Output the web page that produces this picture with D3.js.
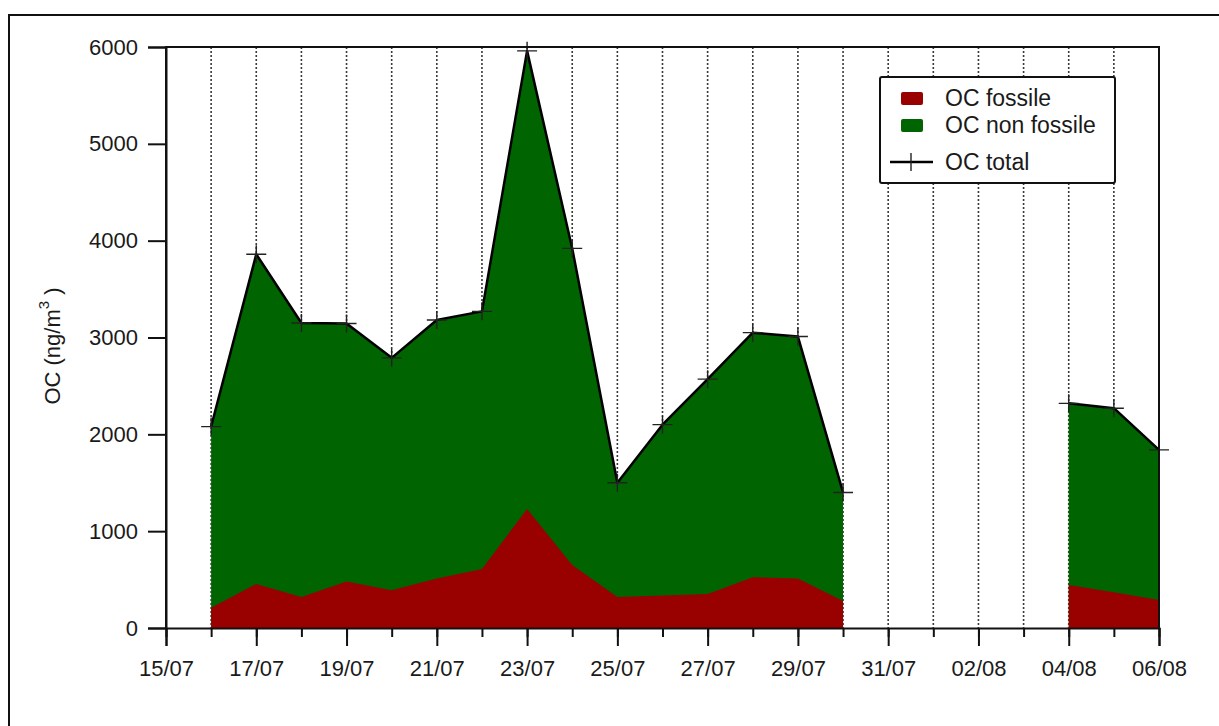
<!DOCTYPE html>
<html>
<head>
<meta charset="utf-8">
<script src="https://cdn.jsdelivr.net/npm/d3@7"></script>
<style>
  body { margin: 0; background: #fff; }
  text { font-family: "Liberation Sans", Arial, sans-serif; fill: #1a1a1a; }
</style>
</head>
<body>
<svg id="chart" width="1219" height="726"></svg>
<script>
// sampling days (dd/mm), null = no measurement
const days = ['16/07', '17/07', '18/07', '19/07', '20/07', '21/07', '22/07', '23/07', '24/07',
  '25/07', '26/07', '27/07', '28/07', '29/07', '30/07', '31/07', '01/08', '02/08', '03/08',
  '04/08', '05/08', '06/08'];
const ocTotal = [2080, 3860, 3150, 3145, 2790, 3180, 3270, 5960, 3920,
  1500, 2100, 2570, 3050, 3010, 1400, null, null, null, null,
  2320, 2270, 1840];
const ocFossile = [210, 455, 320, 480, 390, 510, 610, 1230, 650,
  320, 335, 350, 525, 510, 280, null, null, null, null,
  445, 370, 290];
const yTicks = [0, 1000, 2000, 3000, 4000, 5000, 6000];
const xStart = '15/07';
const xEnd = '06/08';

const parse = d3.utcParse('%d/%m');
const fmt = d3.utcFormat('%d/%m');
const colors = { fossile: '#990000', nonFossile: '#006400' };

const data = days.map((d, i) => ({
  date: parse(d),
  total: ocTotal[i],
  fossile: ocFossile[i]
}));

const svg = d3.select('#chart');
const margin = { left: 166, top: 47, right: 1159, bottom: 628 };

const x = d3.scaleUtc()
  .domain([parse(xStart), parse(xEnd)])
  .range([margin.left, margin.right]);
const y = d3.scaleLinear()
  .domain([0, 6000])
  .range([margin.bottom, margin.top]);

// outer frame
svg.append('rect')
  .attr('x', 9).attr('y', 15)
  .attr('width', 1240).attr('height', 740)
  .attr('fill', 'none').attr('stroke', '#111').attr('stroke-width', 2);

// dotted day grid
const allDays = d3.utcDay.range(parse(xStart), parse(xEnd)).slice(1);
svg.append('g').selectAll('line')
  .data(allDays)
  .join('line')
  .attr('x1', d => x(d)).attr('x2', d => x(d))
  .attr('y1', margin.top).attr('y2', margin.bottom)
  .attr('stroke', '#3a3a3a')
  .attr('stroke-width', 1.6)
  .attr('stroke-dasharray', '2,2');

const defined = d => d.total != null;

const areaTotal = d3.area()
  .defined(defined)
  .x(d => x(d.date))
  .y0(y(0))
  .y1(d => y(d.total));
const areaFossile = d3.area()
  .defined(defined)
  .x(d => x(d.date))
  .y0(y(0))
  .y1(d => y(d.fossile));
const lineTotal = d3.line()
  .defined(defined)
  .x(d => x(d.date))
  .y(d => y(d.total));

svg.append('path').datum(data)
  .attr('d', areaTotal)
  .attr('fill', colors.nonFossile);
svg.append('path').datum(data)
  .attr('d', areaFossile)
  .attr('fill', colors.fossile);
svg.append('path').datum(data)
  .attr('d', lineTotal)
  .attr('fill', 'none')
  .attr('stroke', '#000')
  .attr('stroke-width', 2.5)
  .attr('stroke-linejoin', 'round');

// "+" markers on total
const plus = (g, size) => g.append('path')
  .attr('d', `M${-size},0H${size}M0,${-size * 0.9}V${size * 0.9}`)
  .attr('stroke', '#222')
  .attr('stroke-width', 1.4)
  .attr('fill', 'none');
svg.append('g').selectAll('g')
  .data(data.filter(defined))
  .join('g')
  .attr('transform', d => `translate(${x(d.date)},${y(d.total)})`)
  .each(function () { plus(d3.select(this), 10); });

// plot box
svg.append('path')
  .attr('d', `M${margin.left},${margin.bottom}V${margin.top}H${margin.right}V${margin.bottom}`)
  .attr('fill', 'none').attr('stroke', '#111').attr('stroke-width', 2);

// y axis
const yAxis = svg.append('g')
  .attr('transform', `translate(${margin.left},0)`)
  .call(d3.axisLeft(y).tickValues(yTicks).tickSize(18).tickPadding(10).tickFormat(d3.format('d')));
yAxis.select('.domain').attr('stroke', '#111').attr('stroke-width', 2);
yAxis.selectAll('.tick line').attr('stroke', '#111').attr('stroke-width', 2);
yAxis.selectAll('.tick text').style('font-size', '22px').attr('fill', '#1a1a1a');

// x axis: minor ticks every day, labels every 2 days
const labelDays = d3.utcDay.range(parse(xStart), d3.utcDay.offset(parse(xEnd), 1), 2);
const xMinor = svg.append('g')
  .attr('transform', `translate(0,${margin.bottom})`)
  .call(d3.axisBottom(x).tickValues(d3.utcDay.range(parse(xStart), d3.utcDay.offset(parse(xEnd), 1)))
    .tickSize(9).tickFormat(''));
xMinor.selectAll('.tick line').attr('stroke', '#111').attr('stroke-width', 2);
xMinor.select('.domain').remove();

const xAxis = svg.append('g')
  .attr('transform', `translate(0,${margin.bottom})`)
  .call(d3.axisBottom(x).tickValues(labelDays).tickSize(18).tickPadding(14).tickFormat(fmt));
xAxis.select('.domain').attr('stroke', '#111').attr('stroke-width', 2);
xAxis.selectAll('.tick line').attr('stroke', '#111').attr('stroke-width', 2);
xAxis.selectAll('.tick text').style('font-size', '22px').attr('fill', '#1a1a1a');

// y title
const yTitle = svg.append('text')
  .attr('transform', 'translate(60,346) rotate(-90)')
  .attr('text-anchor', 'middle')
  .style('font-size', '22px');
yTitle.append('tspan').text('OC (ng/m');
yTitle.append('tspan').text('3').attr('dy', -11).style('font-size', '15px');
yTitle.append('tspan').text(' )').attr('dy', 11);

// legend
const legend = svg.append('g').attr('transform', 'translate(880,77)');
legend.append('rect')
  .attr('width', 235).attr('height', 106).attr('rx', 2)
  .attr('fill', '#fff').attr('stroke', '#111').attr('stroke-width', 2);
const swatches = [
  { label: 'OC fossile', color: colors.fossile, y: 15 },
  { label: 'OC non fossile', color: colors.nonFossile, y: 42 }
];
swatches.forEach(s => {
  legend.append('rect')
    .attr('x', 21).attr('y', s.y).attr('width', 22).attr('height', 13).attr('rx', 2)
    .attr('fill', s.color);
  legend.append('text')
    .attr('x', 65).attr('y', s.y + 14)
    .style('font-size', '23px')
    .text(s.label);
});
legend.append('line')
  .attr('x1', 10).attr('x2', 53).attr('y1', 85).attr('y2', 85)
  .attr('stroke', '#000').attr('stroke-width', 2.5);
legend.append('line')
  .attr('x1', 31).attr('x2', 31).attr('y1', 76).attr('y2', 94)
  .attr('stroke', '#222').attr('stroke-width', 1.4);
legend.append('text')
  .attr('x', 65).attr('y', 93)
  .style('font-size', '23px')
  .text('OC total');
</script>
</body>
</html>
